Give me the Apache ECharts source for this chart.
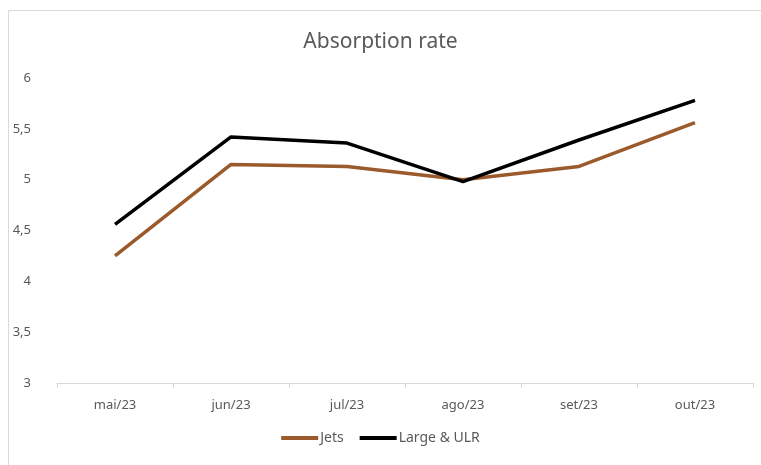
<!DOCTYPE html>
<html>
<head>
<meta charset="utf-8">
<script src="https://cdn.jsdelivr.net/npm/echarts@6/dist/echarts.min.js"></script>
<style>
  html, body { margin: 0; padding: 0; background: #fff; }
  #chart { width: 761px; height: 465px; }
</style>
</head>
<body>
<div id="chart"></div>
<script>
// 月份
const months = ['mai/23', 'jun/23', 'jul/23', 'ago/23', 'set/23', 'out/23']
// 两条线的数据
const jets = [4.25, 5.15, 5.13, 5.0, 5.13, 5.56]
const largeUlr = [4.56, 5.42, 5.36, 4.98, 5.39, 5.78]
const seriesNames = ['Jets', 'Large & ULR']

const fontFamily = '"Noto Sans", sans-serif'
const textColor = '#595959'

let myChart = echarts.init(document.getElementById('chart'))
let option = {
  animation: false,
  title: {
    text: 'Absorption rate',
    left: 'center',
    top: 27,
    textStyle: { fontFamily, fontSize: 21, fontWeight: 'normal', color: textColor }
  },
  graphic: [{
    type: 'rect',
    shape: { x: 8.5, y: 10.5, width: 760, height: 460 },
    style: { fill: 'none', stroke: '#d9d9d9', lineWidth: 1 },
    silent: true
  }],
  legend: {
    bottom: 15,
    left: 'center',
    itemWidth: 37,
    itemHeight: 4,
    itemGap: 16,
    icon: 'rect',
    textStyle: { fontFamily, fontSize: 14, color: textColor, padding: [0, 0, 0, -3] },
    data: seriesNames
  },
  grid: { left: 57, right: 8, top: 78, bottom: 82 },
  xAxis: {
    type: 'category',
    data: months,
    boundaryGap: true,
    axisLine: { lineStyle: { color: '#d9d9d9', width: 1 } },
    axisTick: { show: true, length: 5, lineStyle: { color: '#d9d9d9' } },
    axisLabel: { fontFamily, fontSize: 13, color: textColor, margin: 16 }
  },
  yAxis: {
    type: 'value',
    min: 3,
    max: 6,
    interval: 0.5,
    axisLine: { show: false },
    axisTick: { show: false },
    splitLine: { show: false },
    axisLabel: {
      fontFamily, fontSize: 13, color: textColor, margin: 26,
      formatter: v => String(v).replace('.', ',')
    }
  },
  series: [
    {
      name: seriesNames[0],
      type: 'line',
      data: jets,
      symbol: 'none',
      itemStyle: { color: '#9a5a2c' },
      lineStyle: { color: '#9a5a2c', width: 3.5 }
    },
    {
      name: seriesNames[1],
      type: 'line',
      data: largeUlr,
      symbol: 'none',
      itemStyle: { color: '#000000' },
      lineStyle: { color: '#000000', width: 3.5 }
    }
  ]
}
myChart.setOption(option)
</script>
</body>
</html>
